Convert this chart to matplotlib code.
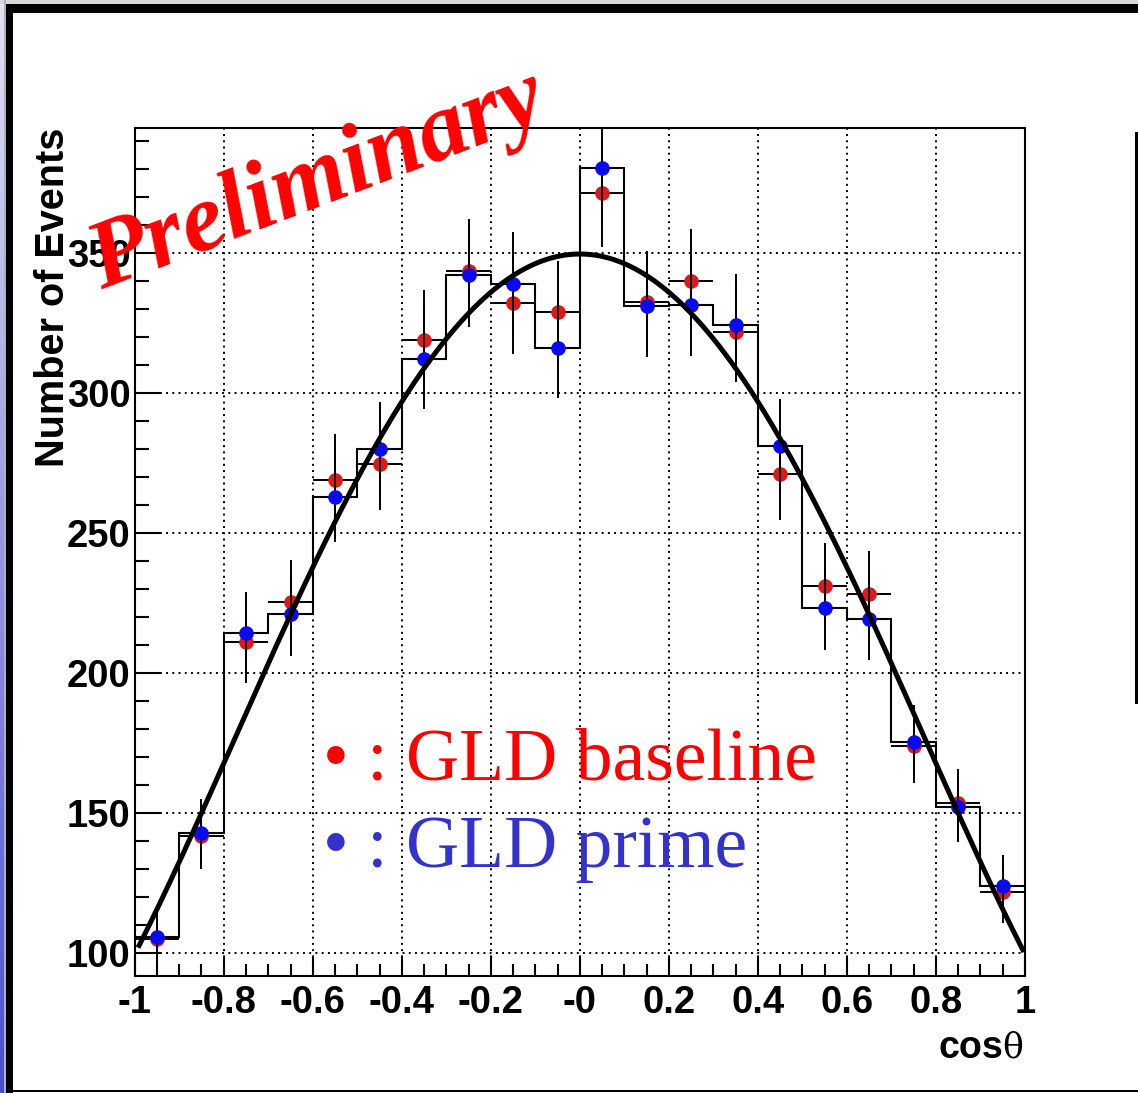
import numpy as np
import matplotlib
matplotlib.use("Agg")
import matplotlib.pyplot as plt
from matplotlib.patches import Rectangle

# bin layout and readings (cos theta, 20 bins)
bin_edges = np.linspace(-1.0, 1.0, 21)
bin_centers = 0.5 * (bin_edges[:-1] + bin_edges[1:])

gld_baseline = [104.8, 141.7, 210.9, 225.1, 268.8, 274.6, 318.8, 343.6, 331.9, 328.9,
                371.2, 332.5, 340.0, 321.8, 270.9, 231.1, 228.2, 173.9, 153.4, 121.6]
gld_prime = [105.7, 142.9, 214.1, 221.0, 262.9, 279.8, 311.9, 342.0, 338.9, 315.9,
             380.1, 331.0, 331.2, 324.2, 281.0, 223.0, 219.2, 175.1, 151.9, 123.8]

# fitted curve: p0 + p2*x^2 + p4*x^4
fit_params = [349.5, 0.0, -345.0, 0.0, 95.0]

xtick_vals = [-1, -0.8, -0.6, -0.4, -0.2, 0, 0.2, 0.4, 0.6, 0.8, 1]
xtick_labels = ["-1", "-0.8", "-0.6", "-0.4", "-0.2", "-0", "0.2", "0.4", "0.6", "0.8", "1"]
ytick_vals = [100, 150, 200, 250, 300, 350]

W, H = 1138, 1093


def fx(px):
    return px / W


def fy(py):
    return 1 - py / H


def main():
    fig = plt.figure(figsize=(W / 100, H / 100), dpi=100)
    fig.patch.set_facecolor("white")

    # frame decorations
    def px_rect(x0, y0, x1, y1, color):
        fig.add_artist(Rectangle((fx(x0), fy(y1)), (x1 - x0) / W, (y1 - y0) / H,
                                 transform=fig.transFigure, color=color, lw=0))

    px_rect(0, 0, W, 4, "#d8d8d8")
    px_rect(6, 4, W, 13, "black")
    px_rect(4, 0, 6, H, "#b0b0b8")
    px_rect(6, 4, 13, H, "black")
    px_rect(13, 1090, W, 1092, "black")
    px_rect(1135, 132, W, 704, "black")
    strip = fig.add_axes([0, 0, 4 / W, 1])
    grad = np.linspace(0, 1, 256).reshape(-1, 1)
    strip.imshow(grad, aspect="auto", cmap=matplotlib.colors.LinearSegmentedColormap.from_list(
        "s", ["#e2e2f2", "#4c4cd6"]), extent=[0, 1, 0, 1])
    strip.axis("off")

    ax = fig.add_axes([fx(134.7), fy(975.7), (1025 - 134.7) / W, (975.7 - 127.7) / H])

    # grid
    ax.grid(True, which="major", color="black", linestyle=(0, (1, 2.2)), linewidth=1.4)
    ax.set_axisbelow(True)

    # histogram of GLD prime
    ax.stairs(gld_prime, bin_edges, baseline=None, color="black", linewidth=1.5, zorder=2)

    # points with errors
    ax.errorbar(bin_centers, gld_baseline, xerr=0.05, yerr=np.sqrt(gld_baseline),
                fmt="o", color="#e01818", ecolor="black", elinewidth=1.4, markersize=9.5,
                capsize=0, zorder=3)
    ax.errorbar(bin_centers, gld_prime, xerr=0.05, yerr=np.sqrt(gld_prime),
                fmt="o", color="#0a0af0", ecolor="black", elinewidth=1.4, markersize=9.5,
                capsize=0, zorder=4)

    # fit curve
    xf = np.linspace(-0.99, 0.995, 400)
    yf = np.polyval(fit_params[::-1], xf)
    ax.plot(xf, yf, color="black", linewidth=3.6, zorder=5)

    ax.set_xlim(-1, 1)
    ax.set_ylim(91.8, 394.6)

    tick_font = dict(family="Liberation Sans", weight="bold", size=27.5)
    ax.set_xticks(xtick_vals)
    ax.set_xticklabels(xtick_labels, fontdict=tick_font)
    ax.set_xticks(np.arange(-1, 1.001, 0.05), minor=True)
    ax.set_yticks(ytick_vals)
    ax.set_yticklabels([str(v) for v in ytick_vals], fontdict=tick_font)
    ax.set_yticks(np.arange(100, 391, 10), minor=True)

    ax.tick_params(axis="x", which="major", direction="in", length=14, width=1.5, pad=7)
    ax.tick_params(axis="x", which="minor", direction="in", length=8.5, width=1.5)
    ax.tick_params(axis="y", which="major", direction="in", length=18, width=1.5, pad=3)
    ax.tick_params(axis="y", which="minor", direction="in", length=10, width=1.5)
    for s in ax.spines.values():
        s.set_linewidth(1.5)

    # axis titles
    fig.text(fx(53), fy(127.7), "Number of Events", rotation=90, ha="right", va="center",
             rotation_mode="anchor", family="Liberation Sans", weight="bold", size=28.5)
    fig.text(fx(1003), fy(1058), "cos", ha="right", va="baseline",
             family="Liberation Sans", weight="bold", size=27)
    fig.text(fx(1023), fy(1058), "\u03b8", ha="right", va="baseline",
             family="DejaVu Serif", size=25)

    # legend text
    fig.text(fx(323), fy(780), "\u2022 : GLD baseline", ha="left", va="baseline",
             family="Liberation Serif", size=53, color="#ff0000")
    fig.text(fx(323), fy(867), "\u2022 : GLD prime", ha="left", va="baseline",
             family="Liberation Serif", size=53, color="#3333cc")

    # watermark
    fig.text(fx(318), fy(182), "Preliminary", rotation=21, ha="center", va="center",
             rotation_mode="anchor", family="Liberation Serif", weight="bold",
             style="italic", size=70, color="#ff0000")

    fig.savefig("out.png", dpi=100)


if __name__ == "__main__":
    main()
